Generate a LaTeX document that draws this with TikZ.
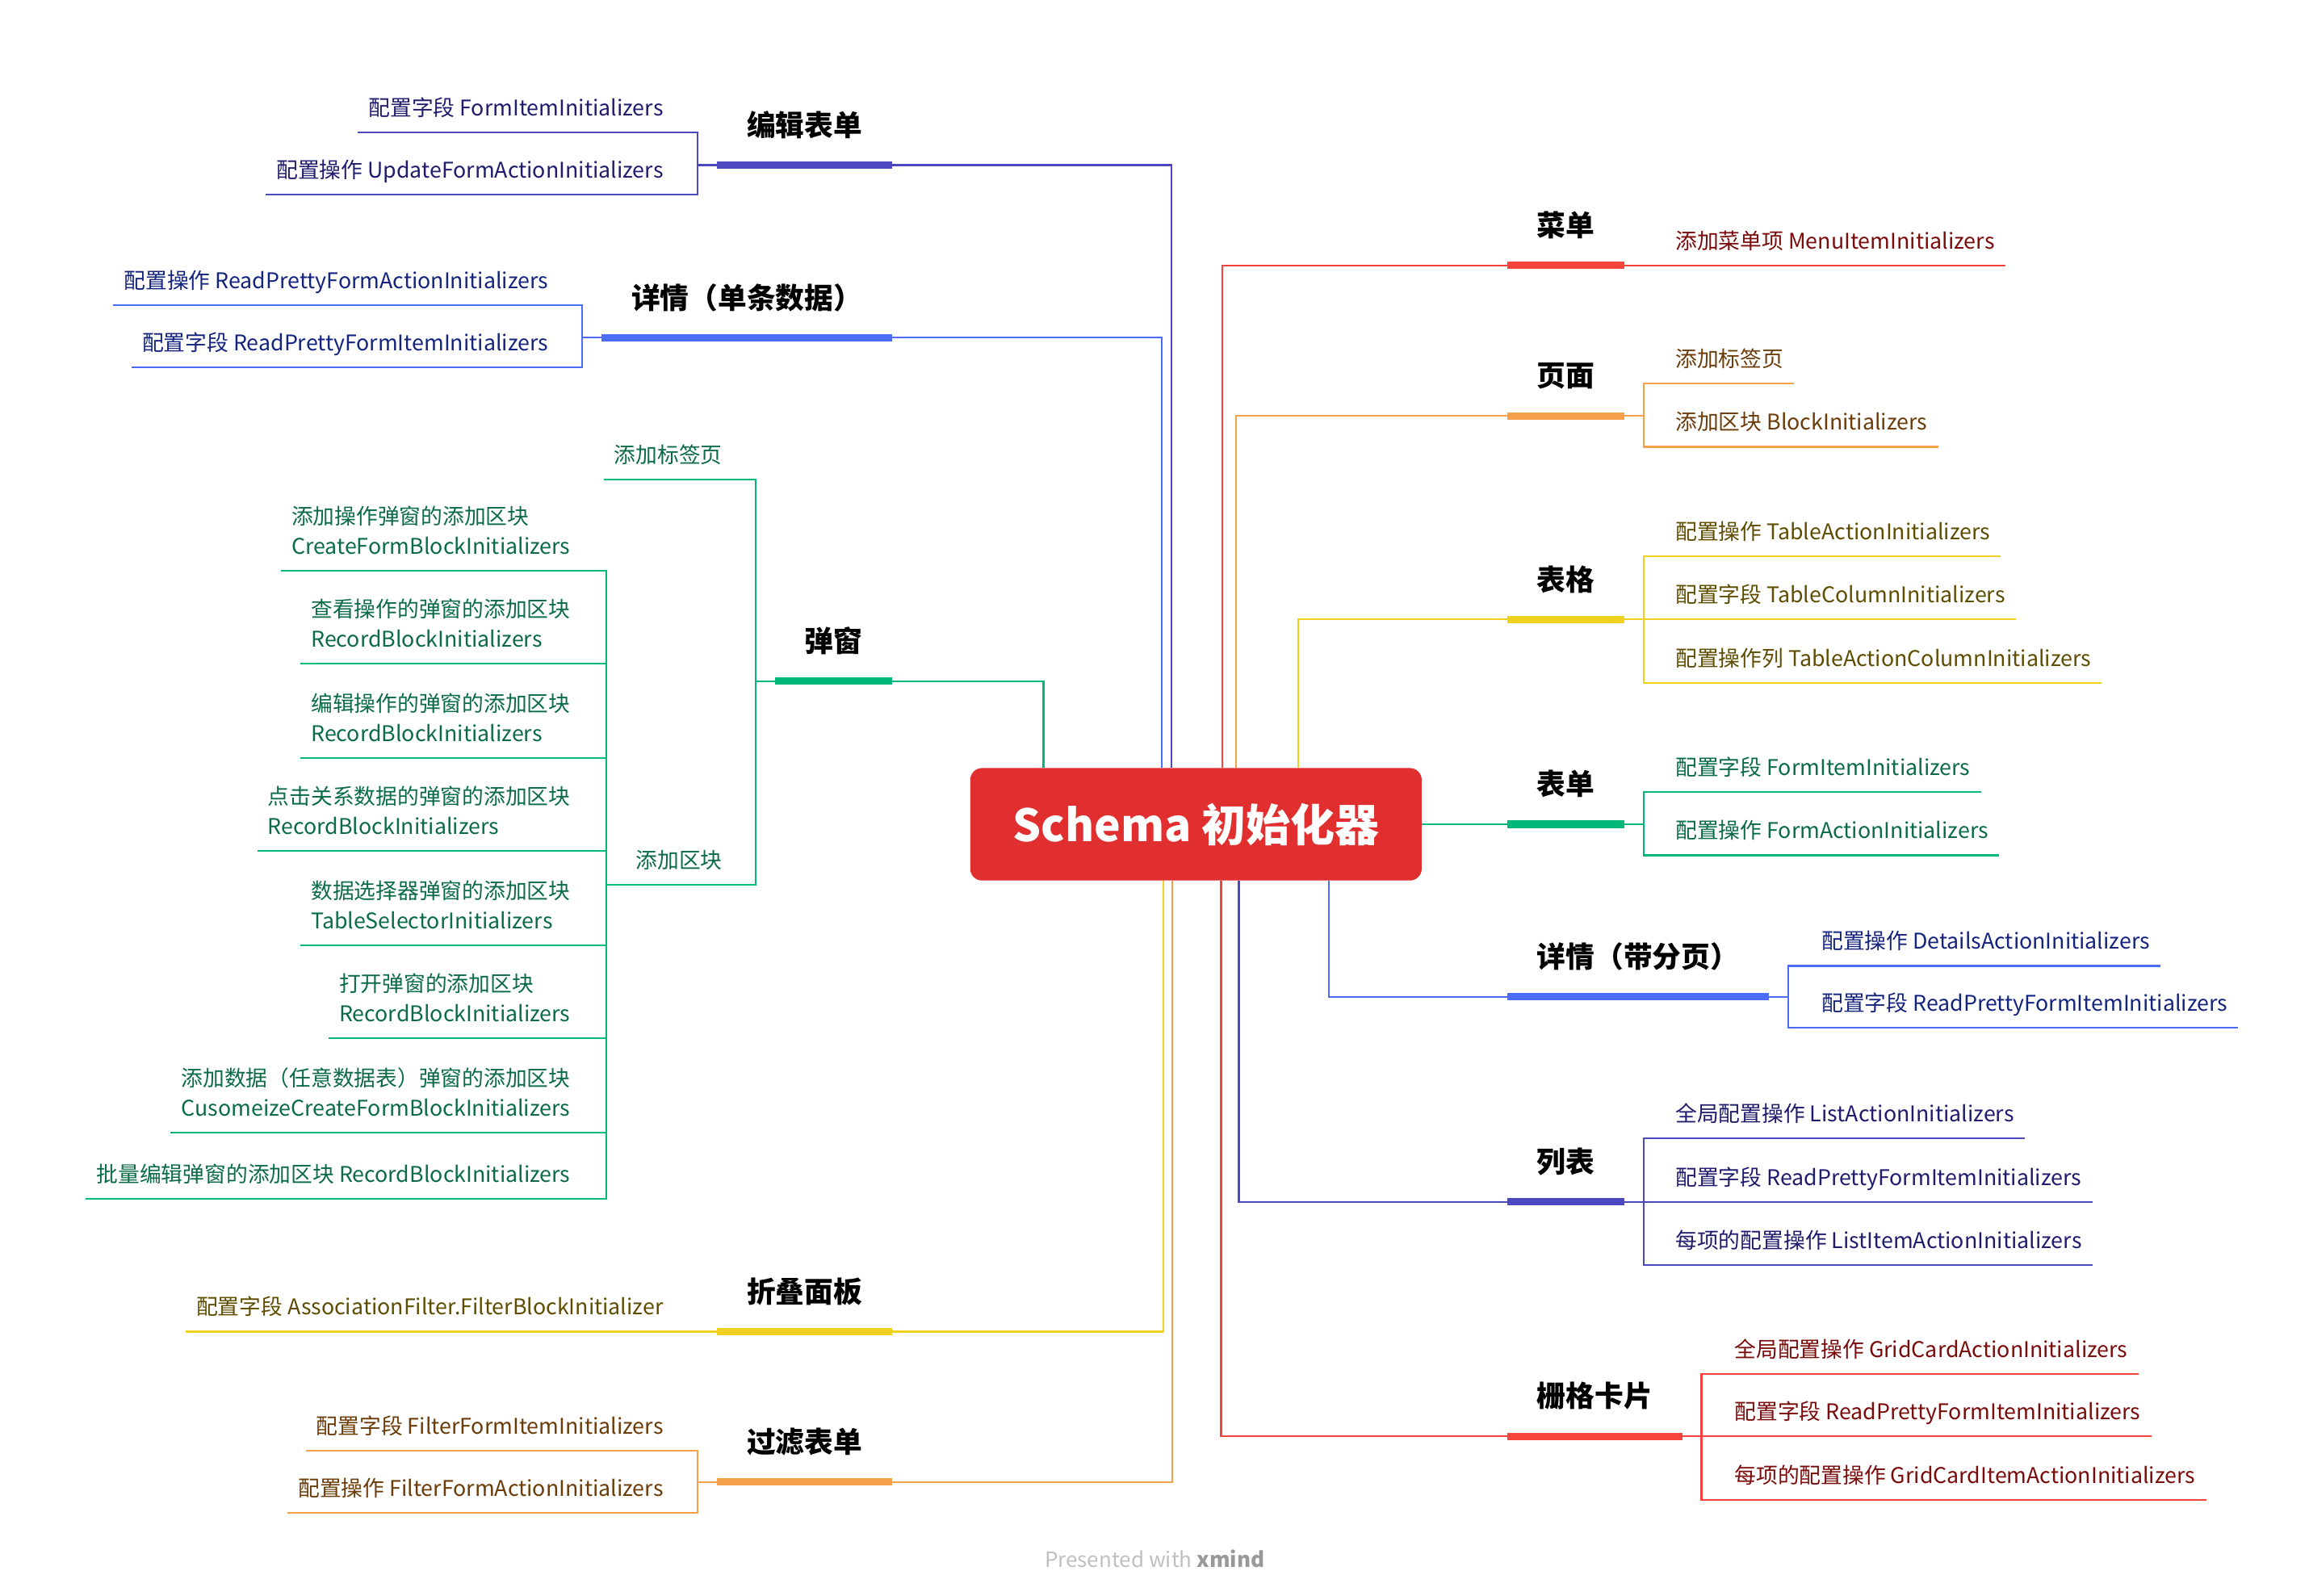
\documentclass[tikz,border=0pt]{standalone}
\usepackage{fontspec}
\setmainfont{Noto Sans CJK SC}
\usetikzlibrary{positioning}
\usetikzlibrary{calc}
\definecolor{rootRed}{HTML}{E12E2E}
\definecolor{cIndigo}{HTML}{4B48C0}
\definecolor{tIndigo}{HTML}{1F1C6E}
\definecolor{cBlue}{HTML}{4A6CF7}
\definecolor{tBlue}{HTML}{14247E}
\definecolor{cGreen}{HTML}{00B877}
\definecolor{tGreen}{HTML}{0A6B46}
\definecolor{cYellow}{HTML}{F0D11F}
\definecolor{tYellow}{HTML}{5E4D00}
\definecolor{cOrange}{HTML}{F5A04A}
\definecolor{tOrange}{HTML}{6B3B08}
\definecolor{cRed}{HTML}{F5443C}
\definecolor{tRed}{HTML}{7A0B0B}
\tikzset{rootbox/.style={rectangle, rounded corners=8pt, fill=rootRed, text=white, font=\fontsize{30}{36}\selectfont\bfseries, minimum width=305pt, minimum height=76pt},
  topic/.style={font=\fontsize{19.5}{23}\selectfont\bfseries, inner xsep=20pt, inner ysep=15.5pt, text depth=4pt},
  leaf/.style={font=\fontsize{14.6}{20}\selectfont, inner xsep=7pt, inner ysep=8pt, text depth=3pt, align=left},
  leafL/.style={leaf, anchor=south east}, leafR/.style={leaf, anchor=south west},
  thin/.style={line width=1.2pt}, barline/.style={line width=5pt}}

\begin{document}
\begin{tikzpicture}[x=0.9963pt, y=-0.9963pt]
  \useasboundingbox (0pt,0pt) rectangle (1560pt,-1078pt);

  \node[rootbox] (root) at (811,559) {Schema 初始化器};

  % 编辑表单
  \node[topic, anchor=south east] (bjbd) at (605,112) {编辑表单};
  \node[leafL, text=tIndigo] (bjbd1) at (457,90) {配置字段 FormItemInitializers};
  \node[leafL, text=tIndigo] (bjbd2) at (457,132) {配置操作 UpdateFormActionInitializers};
  \draw[thin, cIndigo] ([xshift=-16.5pt]root.north) |- (bjbd.south east);
  \draw[barline, cIndigo] (bjbd.south west) -- (bjbd.south east);
  \draw[thin, cIndigo] (bjbd.south west) -- ++(-13,0) |- (bjbd1.south east) -- (bjbd1.south west);
  \draw[thin, cIndigo] (bjbd.south west) -- ++(-13,0) |- (bjbd2.south east) -- (bjbd2.south west);

  % 详情（单条数据）
  \node[topic, anchor=south east] (xqdt) at (605,229) {详情（单条数据）};
  \node[leafL, text=tBlue] (xqdt1) at (379,207) {配置操作 ReadPrettyFormActionInitializers};
  \node[leafL, text=tBlue] (xqdt2) at (379,249) {配置字段 ReadPrettyFormItemInitializers};
  \draw[thin, cBlue] ([xshift=-23pt]root.north) |- (xqdt.south east);
  \draw[barline, cBlue] (xqdt.south west) -- (xqdt.south east);
  \draw[thin, cBlue] (xqdt.south west) -- ++(-13,0) |- (xqdt1.south east) -- (xqdt1.south west);
  \draw[thin, cBlue] (xqdt.south west) -- ++(-13,0) |- (xqdt2.south east) -- (xqdt2.south west);

  % 弹窗
  \node[topic, anchor=south east] (tc) at (605,462) {弹窗};
  \node[leafL, text=tGreen] (tcbq) at (497,325) {添加标签页};
  \node[leafL, text=tGreen] (tcqk) at (497,600) {添加区块};
  \draw[thin, cGreen] ([xshift=-103pt]root.north) |- (tc.south east);
  \draw[barline, cGreen] (tc.south west) -- (tc.south east);
  \draw[thin, cGreen] (tc.south west) -- ++(-13,0) |- (tcbq.south east) -- (tcbq.south west);
  \draw[thin, cGreen] (tc.south west) -- ++(-13,0) |- (tcqk.south east) -- (tcqk.south west);
  \node[leafL, text=tGreen] (qk1) at (394,387) {添加操作弹窗的添加区块\\CreateFormBlockInitializers};
  \node[leafL, text=tGreen] (qk2) at (394,450) {查看操作的弹窗的添加区块\\RecordBlockInitializers};
  \node[leafL, text=tGreen] (qk3) at (394,514) {编辑操作的弹窗的添加区块\\RecordBlockInitializers};
  \node[leafL, text=tGreen] (qk4) at (394,577) {点击关系数据的弹窗的添加区块\\RecordBlockInitializers};
  \node[leafL, text=tGreen] (qk5) at (394,641) {数据选择器弹窗的添加区块\\TableSelectorInitializers};
  \node[leafL, text=tGreen] (qk6) at (394,704) {打开弹窗的添加区块\\RecordBlockInitializers};
  \node[leafL, text=tGreen] (qk7) at (394,768) {添加数据（任意数据表）弹窗的添加区块\\CusomeizeCreateFormBlockInitializers};
  \node[leafL, text=tGreen] (qk8) at (394,813) {批量编辑弹窗的添加区块 RecordBlockInitializers};
  \foreach \k in {qk1,qk2,qk3,qk4,qk5,qk6,qk7,qk8}
    \draw[thin, cGreen] (tcqk.south west) -- ++(-13,0) |- (\k.south east) -- (\k.south west);

  % 折叠面板
  \node[topic, anchor=south east] (zdmb) at (605,903) {折叠面板};
  \node[leafL, text=tYellow] (zdmb1) at (457,903) {配置字段 AssociationFilter.FilterBlockInitializer};
  \draw[thin, cYellow] ([xshift=-22pt]root.south) |- (zdmb.south east);
  \draw[barline, cYellow] (zdmb.south west) -- (zdmb.south east);
  \draw[thin, cYellow] (zdmb.south west) -- (zdmb1.south east) -- (zdmb1.south west);

  % 过滤表单
  \node[topic, anchor=south east] (glbd) at (605,1005) {过滤表单};
  \node[leafL, text=tOrange] (glbd1) at (457,984) {配置字段 FilterFormItemInitializers};
  \node[leafL, text=tOrange] (glbd2) at (457,1026) {配置操作 FilterFormActionInitializers};
  \draw[thin, cOrange] ([xshift=-16pt]root.south) |- (glbd.south east);
  \draw[barline, cOrange] (glbd.south west) -- (glbd.south east);
  \draw[thin, cOrange] (glbd.south west) -- ++(-13,0) |- (glbd1.south east) -- (glbd1.south west);
  \draw[thin, cOrange] (glbd.south west) -- ++(-13,0) |- (glbd2.south east) -- (glbd2.south west);

  % 菜单
  \node[topic, anchor=south west] (cd) at (1022,180) {菜单};
  \node[leafR, text=tRed] (cd1) at (1129,180) {添加菜单项 MenuItemInitializers};
  \draw[thin, cRed] ([xshift=18pt]root.north) |- (cd.south west);
  \draw[barline, cRed] (cd.south west) -- (cd.south east);
  \draw[thin, cRed] (cd.south east) -- (cd1.south west) -- (cd1.south east);

  % 页面
  \node[topic, anchor=south west] (ym) at (1022,282) {页面};
  \node[leafR, text=tOrange] (ym1) at (1129,260) {添加标签页};
  \node[leafR, text=tOrange] (ym2) at (1129,303) {添加区块 BlockInitializers};
  \draw[thin, cOrange] ([xshift=27pt]root.north) |- (ym.south west);
  \draw[barline, cOrange] (ym.south west) -- (ym.south east);
  \draw[thin, cOrange] (ym.south east) -- ++(13,0) |- (ym1.south west) -- (ym1.south east);
  \draw[thin, cOrange] (ym.south east) -- ++(13,0) |- (ym2.south west) -- (ym2.south east);

  % 表格
  \node[topic, anchor=south west] (bg) at (1022,420) {表格};
  \node[leafR, text=tYellow] (bg1) at (1129,377) {配置操作 TableActionInitializers};
  \node[leafR, text=tYellow] (bg2) at (1129,420) {配置字段 TableColumnInitializers};
  \node[leafR, text=tYellow] (bg3) at (1129,463) {配置操作列 TableActionColumnInitializers};
  \draw[thin, cYellow] ([xshift=69pt]root.north) |- (bg.south west);
  \draw[barline, cYellow] (bg.south west) -- (bg.south east);
  \foreach \k in {bg1,bg2,bg3}
    \draw[thin, cYellow] (bg.south east) -- ++(13,0) |- (\k.south west) -- (\k.south east);

  % 表单
  \node[topic, anchor=south west] (bd) at (1022,559) {表单};
  \node[leafR, text=tGreen] (bd1) at (1129,537) {配置字段 FormItemInitializers};
  \node[leafR, text=tGreen] (bd2) at (1129,580) {配置操作 FormActionInitializers};
  \draw[thin, cGreen] (root.east) -- (bd.south west);
  \draw[barline, cGreen] (bd.south west) -- (bd.south east);
  \draw[thin, cGreen] (bd.south east) -- ++(13,0) |- (bd1.south west) -- (bd1.south east);
  \draw[thin, cGreen] (bd.south east) -- ++(13,0) |- (bd2.south west) -- (bd2.south east);

  % 详情（带分页）
  \node[topic, anchor=south west] (xqfy) at (1022,676) {详情（带分页）};
  \node[leafR, text=tBlue] (xqfy1) at (1228,655) {配置操作 DetailsActionInitializers};
  \node[leafR, text=tBlue] (xqfy2) at (1228,697) {配置字段 ReadPrettyFormItemInitializers};
  \draw[thin, cBlue] ([xshift=90pt]root.south) |- (xqfy.south west);
  \draw[barline, cBlue] (xqfy.south west) -- (xqfy.south east);
  \draw[thin, cBlue] (xqfy.south east) -- ++(13,0) |- (xqfy1.south west) -- (xqfy1.south east);
  \draw[thin, cBlue] (xqfy.south east) -- ++(13,0) |- (xqfy2.south west) -- (xqfy2.south east);

  % 列表
  \node[topic, anchor=south west] (lb) at (1022,815) {列表};
  \node[leafR, text=tIndigo] (lb1) at (1129,772) {全局配置操作 ListActionInitializers};
  \node[leafR, text=tIndigo] (lb2) at (1129,815) {配置字段 ReadPrettyFormItemInitializers};
  \node[leafR, text=tIndigo] (lb3) at (1129,858) {每项的配置操作 ListItemActionInitializers};
  \draw[thin, cIndigo] ([xshift=29pt]root.south) |- (lb.south west);
  \draw[barline, cIndigo] (lb.south west) -- (lb.south east);
  \foreach \k in {lb1,lb2,lb3}
    \draw[thin, cIndigo] (lb.south east) -- ++(13,0) |- (\k.south west) -- (\k.south east);

  % 栅格卡片
  \node[topic, anchor=south west] (sgkp) at (1022,974) {栅格卡片};
  \node[leafR, text=tRed] (sgkp1) at (1169,932) {全局配置操作 GridCardActionInitializers};
  \node[leafR, text=tRed] (sgkp2) at (1169,974) {配置字段 ReadPrettyFormItemInitializers};
  \node[leafR, text=tRed] (sgkp3) at (1169,1017) {每项的配置操作 GridCardItemActionInitializers};
  \draw[thin, cRed] ([xshift=17pt]root.south) |- (sgkp.south west);
  \draw[barline, cRed] (sgkp.south west) -- (sgkp.south east);
  \foreach \k in {sgkp1,sgkp2,sgkp3}
    \draw[thin, cRed] (sgkp.south east) -- ++(13,0) |- (\k.south west) -- (\k.south east);

  \node[text=black!25, font=\fontsize{14.2}{16}\selectfont] (credit) at (783,1057) {Presented with \textbf{\color{black!40}xmind}};
\end{tikzpicture}
\end{document}
